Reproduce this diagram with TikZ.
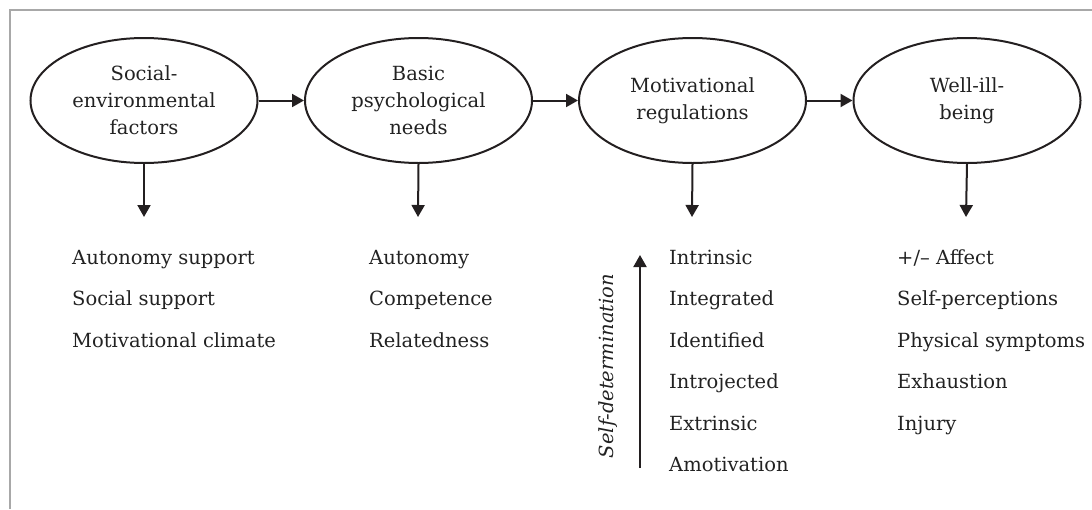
\documentclass[tikz,border=0pt]{standalone}
\usepackage{fontspec}
\setmainfont{DejaVu Serif}
\usetikzlibrary{shapes.geometric,arrows.meta}
\definecolor{txt}{HTML}{222222}
\definecolor{ln}{HTML}{231F20}
\definecolor{frame}{HTML}{A8A8A8}
\tikzset{
  ell/.style={ellipse,draw=ln,line width=2pt,minimum width=227pt,minimum height=125pt,inner sep=0pt,align=center,text=txt,font=\fontsize{19.5}{27}\selectfont},
  item/.style={anchor=base west,inner sep=0pt,text=txt,font=\fontsize{19.5}{22}\selectfont},
  arr/.style={draw=ln,line width=2pt,-{Triangle[length=12pt,width=13pt]}},
}
\begin{document}
\begin{tikzpicture}[x=1pt,y=-1pt]
\useasboundingbox (0,0) rectangle (1092,509);
\draw[frame,line width=1.3pt] (10,509) -- (10,10) -- (1092,10);
% ellipses
\node[ell] (e1) at (144,100.5) {Social-\\environmental\\factors};
\node[ell] (e2) at (418.5,100.5) {Basic\\psychological\\needs};
\node[ell] (e3) at (692.5,100.5) {Motivational\\regulations};
\node[ell] (e4) at (967,100.5) {Well-ill-\\being};
\draw[arr] (e1) -- (e2);
\draw[arr] (e2) -- (e3);
\draw[arr] (e3) -- (e4);
% down arrows
\coordinate (d1) at (144,217);
\coordinate (d2) at (418,217);
\coordinate (d3) at (692,217);
\coordinate (d4) at (966,217);
\draw[arr] (e1.south) -- (d1);
\draw[arr] (e2.south) -- (d2);
\draw[arr] (e3.south) -- (d3);
\draw[arr] (e4.south) -- (d4);
% column 1
\node[item] (a1) at (72,264) {Autonomy support};
\node[item] (a2) at (72,305.5) {Social support};
\node[item] (a3) at (72,347) {Motivational climate};
% column 2
\node[item] (b1) at (369,264) {Autonomy};
\node[item] (b2) at (369,305.5) {Competence};
\node[item] (b3) at (369,347) {Relatedness};
% column 3
\node[item] (c1) at (669,264) {Intrinsic};
\node[item] (c2) at (669,305.5) {Integrated};
\node[item] (c3) at (669,347) {Identified};
\node[item] (c4) at (669,388.5) {Introjected};
\node[item] (c5) at (669,430) {Extrinsic};
\node[item] (c6) at (669,471.5) {Amotivation};
% column 4
\node[item] (w1) at (897,264) {+/– Affect};
\node[item] (w2) at (897,305.5) {Self-perceptions};
\node[item] (w3) at (897,347) {Physical symptoms};
\node[item] (w4) at (897,388.5) {Exhaustion};
\node[item] (w5) at (897,430) {Injury};
% self-determination
\coordinate (s0) at (640,468);
\coordinate (s1) at (640,255);
\draw[arr] (s0) -- (s1);
\node[rotate=90,anchor=base,inner sep=0pt,text=txt,font=\fontsize{19.5}{22}\selectfont\itshape] (sd) at (613.5,366) {Self-determination};
\end{tikzpicture}
\end{document}
